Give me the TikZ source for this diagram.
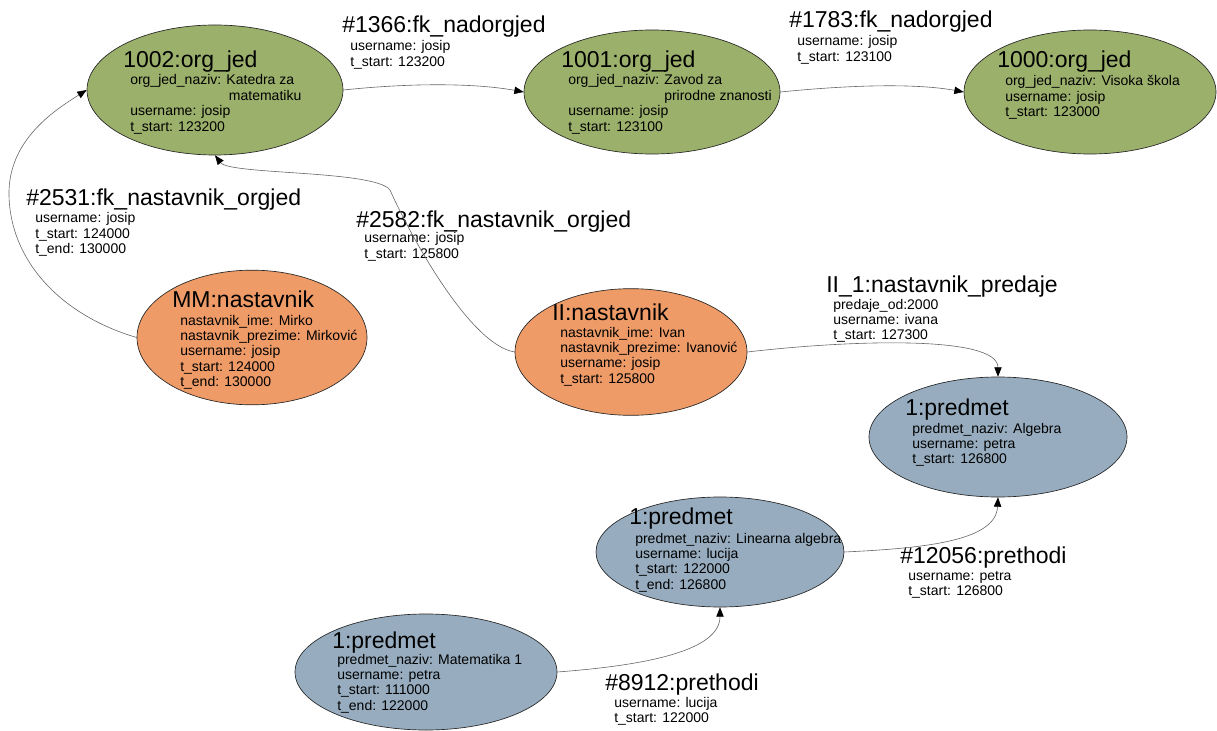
\documentclass[tikz,border=0pt]{standalone}
\usepackage{fontspec}
\setmainfont{Liberation Sans}
\usetikzlibrary{shapes.geometric,arrows.meta}
\definecolor{orggreen}{RGB}{155,176,107}
\definecolor{nastorange}{RGB}{238,155,104}
\definecolor{predblue}{RGB}{151,173,191}
\newcommand{\attrlines}[1]{\begin{tabular}[t]{@{}l@{}}#1\end{tabular}}
\tikzset{
  ent/.style={ellipse, draw=black!85, line width=0.5pt, inner sep=0pt},
  ttl/.style={anchor=base west, inner sep=0pt, font=\fontsize{17.25}{20}\selectfont},
  att/.style={anchor=base west, inner sep=0pt, font=\fontsize{10.5}{11.6}\selectfont},
  conn/.style={draw=black!60, line width=0.45pt, -{Triangle[length=7pt,width=5.5pt,color=black]}},
}
\begin{document}
\begin{tikzpicture}[x=0.75pt,y=-0.75pt]
\useasboundingbox (0,0) rectangle (1217,731);

% ---------- org_jed nodes ----------
\node[ent, fill=orggreen, minimum width=192pt, minimum height=97.5pt] (n1002) at (215,90) {};
\node[ttl] (n1002t) at (123,68) {1002:org\_jed};
\node[att] (n1002a) at (130,85) {\attrlines{org\_jed\_naziv: Katedra za\\\hspace{74pt}matematiku\\username: josip\\t\_start: 123200}};

\node[ent, fill=orggreen, minimum width=192pt, minimum height=93pt] (n1001) at (652,92) {};
\node[ttl] (n1001t) at (561,68) {1001:org\_jed};
\node[att] (n1001a) at (568,85) {\attrlines{org\_jed\_naziv: Zavod za\\\hspace{72pt}prirodne znanosti\\username: josip\\t\_start: 123100}};

\node[ent, fill=orggreen, minimum width=189pt, minimum height=93pt] (n1000) at (1090,92) {};
\node[ttl] (n1000t) at (997,68) {1000:org\_jed};
\node[att] (n1000a) at (1005,86) {\attrlines{org\_jed\_naziv: Visoka škola\\username: josip\\t\_start: 123000}};

% ---------- nastavnik nodes ----------
\node[ent, fill=nastorange, minimum width=172.5pt, minimum height=101pt] (nMM) at (252,337.5) {};
\node[ttl] (nMMt) at (172,307) {MM:nastavnik};
\node[att] (nMMa) at (180,325) {\attrlines{nastavnik\_ime: Mirko\\nastavnik\_prezime: Mirković\\username: josip\\t\_start: 124000\\t\_end: 130000}};

\node[ent, fill=nastorange, minimum width=174pt, minimum height=95pt] (nII) at (631,352) {};
\node[ttl] (nIIt) at (552,320) {II:nastavnik};
\node[att] (nIIa) at (560,337) {\attrlines{nastavnik\_ime: Ivan\\nastavnik\_prezime: Ivanović\\username: josip\\t\_start: 125800}};

% ---------- predmet nodes ----------
\node[ent, fill=predblue, minimum width=193.5pt, minimum height=90pt] (nAlg) at (998,437) {};
\node[ttl] (nAlgt) at (905,415) {1:predmet};
\node[att] (nAlga) at (912,433) {\attrlines{predmet\_naziv: Algebra\\username: petra\\t\_start: 126800}};

\node[ent, fill=predblue, minimum width=186pt, minimum height=82.5pt] (nLin) at (720,552) {};
\node[ttl] (nLint) at (629,524) {1:predmet};
\node[att] (nLina) at (635,543) {\attrlines{predmet\_naziv: Linearna algebra\\username: lucija\\t\_start: 122000\\t\_end: 126800}};

\node[ent, fill=predblue, minimum width=196.5pt, minimum height=87pt] (nMat) at (426,672) {};
\node[ttl] (nMatt) at (332,648) {1:predmet};
\node[att] (nMata) at (337,664) {\attrlines{predmet\_naziv: Matematika 1\\username: petra\\t\_start: 111000\\t\_end: 122000}};

% ---------- connector labels ----------
\node[ttl] (l1366t) at (342,33) {\#1366:fk\_nadorgjed};
\node[att] (l1366a) at (350,51) {\attrlines{username: josip\\t\_start: 123200}};

\node[ttl] (l1783t) at (789,28) {\#1783:fk\_nadorgjed};
\node[att] (l1783a) at (797,46) {\attrlines{username: josip\\t\_start: 123100}};

\node[ttl] (l2531t) at (26,205) {\#2531:fk\_nastavnik\_orgjed};
\node[att] (l2531a) at (35,223) {\attrlines{username: josip\\t\_start: 124000\\t\_end: 130000}};

\node[ttl] (l2582t) at (356,227) {\#2582:fk\_nastavnik\_orgjed};
\node[att] (l2582a) at (364,243) {\attrlines{username: josip\\t\_start: 125800}};

\node[ttl] (lpredt) at (826,292) {II\_1:nastavnik\_predaje};
\node[att] (lpreda) at (833,309) {\attrlines{predaje\_od:2000\\username: ivana\\t\_start: 127300}};

\node[ttl] (l12056t) at (900,563) {\#12056:prethodi};
\node[att] (l12056a) at (908,580) {\attrlines{username: petra\\t\_start: 126800}};

\node[ttl] (l8912t) at (605,690) {\#8912:prethodi};
\node[att] (l8912a) at (614,707) {\attrlines{username: lucija\\t\_start: 122000}};

% ---------- connectors ----------
\draw[conn] (n1002.east) .. controls (420,82) and (480,84) .. (n1001.west);
\draw[conn] (n1001.east) .. controls (860,84) and (920,84) .. (n1000.west);
\draw[conn] (nMM.west) .. controls (60,315) and (10,260) .. (9,195)
            .. controls (8,140) and (55,110) .. (n1002.west);
\draw[conn] (nII.west) .. controls (470,345) and (410,235) .. (390,190)
            .. controls (375,170) and (230,175) .. (n1002.south);
\draw[conn] (nII.east) .. controls (850,340) and (998,335) .. (nAlg.north);
\draw[conn] (nLin.east) .. controls (930,548) and (996,540) .. (nAlg.south);
\draw[conn] (nMat.east) .. controls (650,665) and (720,650) .. (nLin.south);
\end{tikzpicture}
\end{document}
